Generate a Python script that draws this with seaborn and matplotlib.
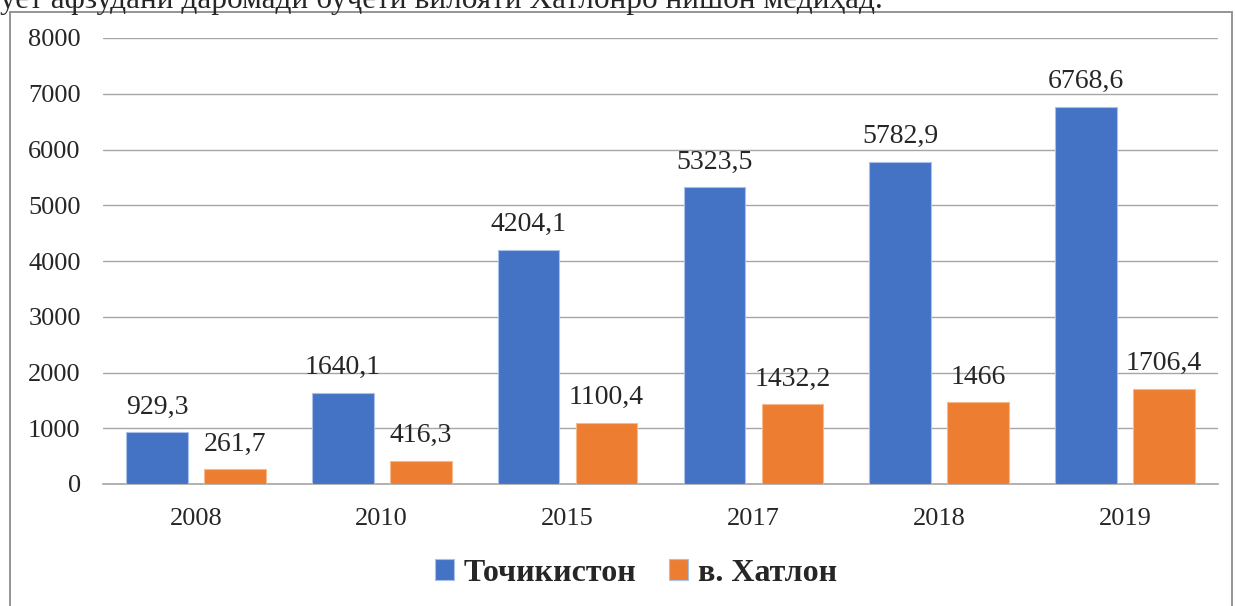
import matplotlib.pyplot as plt
import numpy as np
import pandas as pd
import seaborn as sns
from matplotlib.patches import Rectangle

# Budget income: Tajikistan vs Khatlon region
years = ['2008', '2010', '2015', '2017', '2018', '2019']
tajikistan = [929.3, 1640.1, 4204.1, 5323.5, 5782.9, 6768.6]
khatlon = [261.7, 416.3, 1100.4, 1432.2, 1466.0, 1706.4]
tj_labels = ['929,3', '1640,1', '4204,1', '5323,5', '5782,9', '6768,6']
kh_labels = ['261,7', '416,3', '1100,4', '1432,2', '1466', '1706,4']
series = ['Точикистон', 'в. Хатлон']

df = pd.DataFrame({
    'year': years * 2,
    'value': tajikistan + khatlon,
    'series': [series[0]] * 6 + [series[1]] * 6,
})

sns.set_style('white')
plt.rcParams['font.family'] = ['Liberation Serif', 'DejaVu Serif']

fig = plt.figure(figsize=(12.35, 6.06), dpi=100)
ax = fig.add_axes([103 / 1235, 1 - 484 / 606, 1115 / 1235, 446 / 606])

sns.barplot(data=df, x='year', y='value', hue='series', order=years,
            palette=['#4472C4', '#ED7D31'], saturation=1, width=0.84, gap=0.21,
            edgecolor='#A9C0E8', linewidth=0.8, ax=ax, zorder=3)
for bar in ax.containers[1]:
    bar.set_edgecolor('#F6B98C')

ax.bar_label(ax.containers[0], labels=tj_labels, padding=9, fontsize=20)
ax.bar_label(ax.containers[1], labels=kh_labels, padding=9, fontsize=20)

ax.set_ylim(0, 8000)
ax.set_yticks(np.arange(0, 8001, 1000))
ax.yaxis.grid(True, color='#A6A6A6', linewidth=1.0)
ax.set_axisbelow(True)
for s in ['top', 'right', 'left']:
    ax.spines[s].set_visible(False)
ax.spines['bottom'].set_color('#A6A6A6')
ax.spines['bottom'].set_linewidth(1.2)
ax.tick_params(axis='y', labelsize=19, length=0, pad=16)
ax.tick_params(axis='x', labelsize=19, length=0, pad=17)
ax.set_xlabel('')
ax.set_ylabel('')

ax.legend(loc='center', bbox_to_anchor=(0.478, -0.2), ncol=2, frameon=False,
          prop={'size': 23, 'weight': 'bold'}, handlelength=0.6,
          handleheight=0.6, handletextpad=0.3, columnspacing=1.0)
ax.set_xlim(-0.5, 5.5)

# chart frame and clipped sentence above it
fig.patches.append(Rectangle((10 / 1235, -0.05), 1222 / 1235, 1.05 - 12 / 606,
                             transform=fig.transFigure, fill=False,
                             edgecolor='#8C8C8C', linewidth=1.3))
fig.text(0.0, 1 - 8 / 606, 'ует афзудани даромади буҷети вилояти Хатлонро нишон медиҳад.',
         fontsize=22.5, va='baseline', ha='left')

fig.savefig('out.png', dpi=100)
